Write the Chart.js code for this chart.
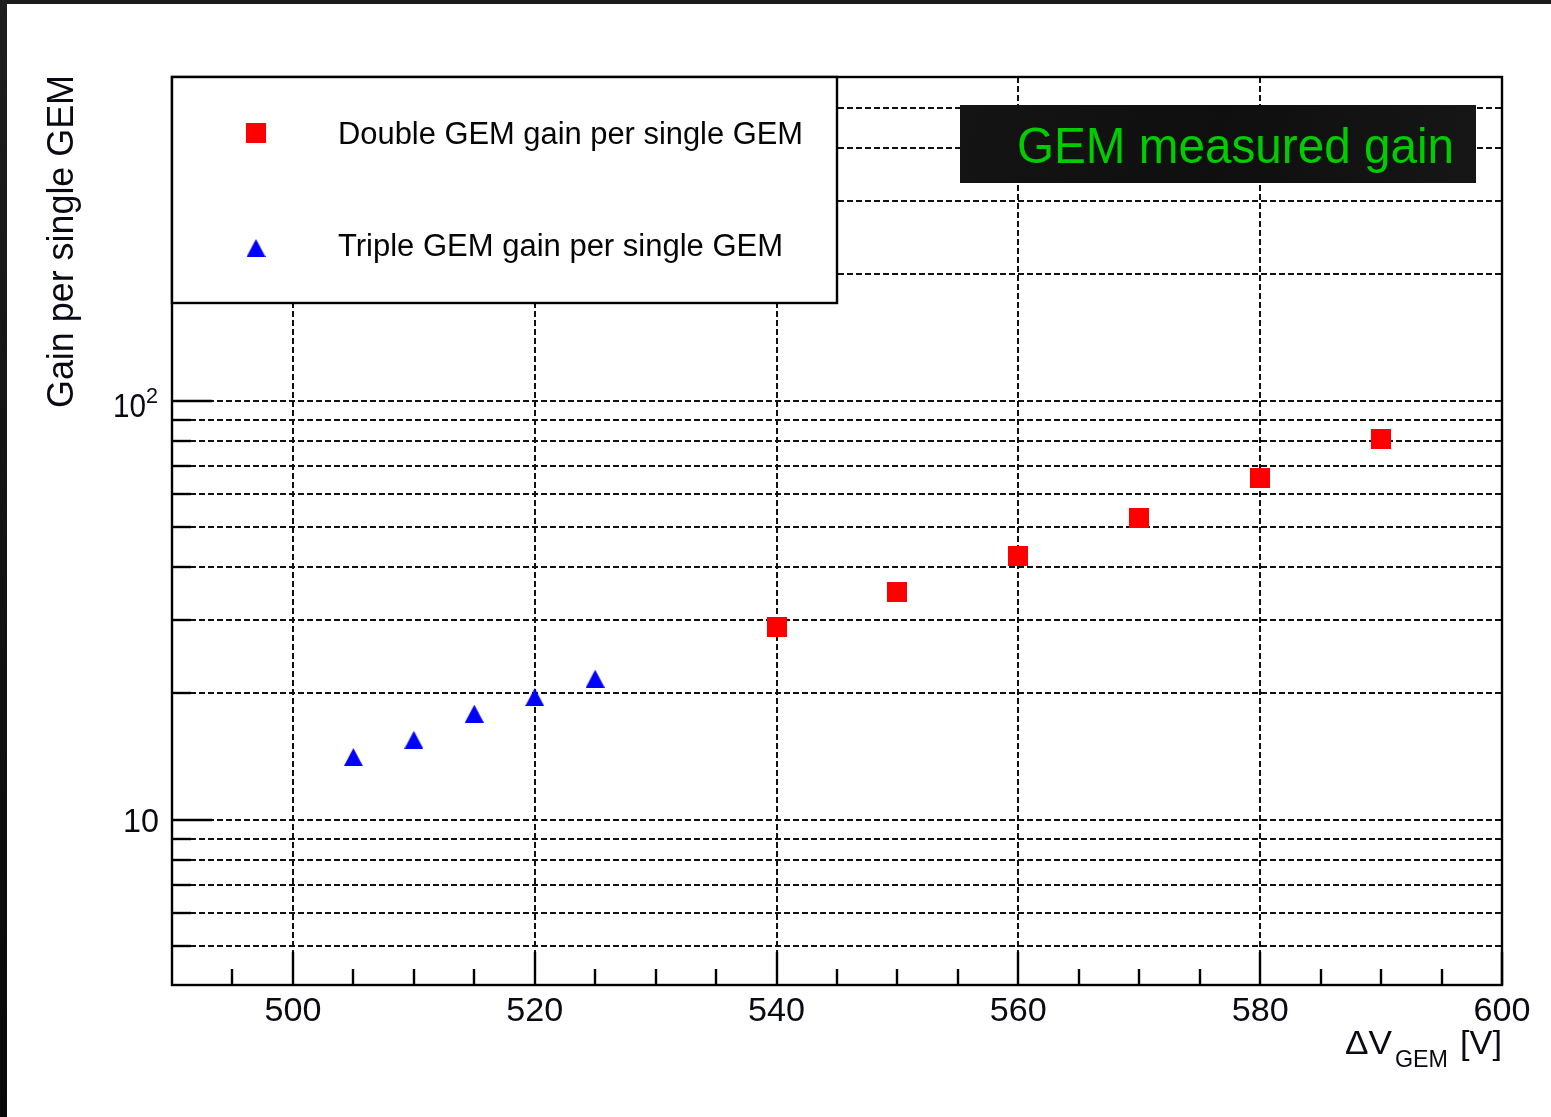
<!DOCTYPE html>
<html>
<head>
<meta charset="utf-8">
<title>GEM measured gain</title>
<script src="https://cdn.jsdelivr.net/npm/chart.js@4/dist/chart.umd.min.js"></script>
<style>
  html, body { margin: 0; padding: 0; background: #ffffff; }
  canvas { display: block; }
</style>
</head>
<body>
<canvas id="gain" width="1551" height="1117"></canvas>
<script>
// Voltage across one GEM foil [V]
const doubleVoltage = [540, 550, 560, 570, 580, 590];
const doubleGain    = [28.8, 34.9, 42.5, 52.4, 65.2, 80.8];

const tripleVoltage = [505, 510, 515, 520, 525];
const tripleGain    = [14.1, 15.5, 17.9, 19.6, 21.7];

const seriesNames = ['Double GEM gain per single GEM', 'Triple GEM gain per single GEM'];
const boxTitle = 'GEM measured gain';
const yTitle = 'Gain per single GEM';

// Axis ranges and ticks
const xRange = [490, 600];
const yRange = [4.03, 592];
const xMajorTicks = [500, 520, 540, 560, 580, 600];
const xTickLabels = ['500', '520', '540', '560', '580', '600'];
const xMinorTicks = [495, 505, 510, 515, 525, 530, 535, 545, 550, 555, 565, 570, 575, 585, 590, 595];
const xGridValues = [500, 520, 540, 560, 580];
const yMajorTicks = [10, 100];
const yMinorTicks = [5, 6, 7, 8, 9, 20, 30, 40, 50, 60, 70, 80, 90, 200, 300, 400, 500];

const FONT = '"Liberation Sans", Arial, Helvetica, sans-serif';

function makeSquare(size, color) {
  const c = document.createElement('canvas');
  c.width = size; c.height = size;
  const g = c.getContext('2d');
  g.fillStyle = color;
  g.fillRect(0, 0, size, size);
  return c;
}
function makeTriangle(w, h, color) {
  const c = document.createElement('canvas');
  c.width = w; c.height = h;
  const g = c.getContext('2d');
  g.fillStyle = color;
  g.beginPath();
  g.moveTo(w / 2, 0);
  g.lineTo(w, h);
  g.lineTo(0, h);
  g.closePath();
  g.fill();
  return c;
}
const squareMarker = makeSquare(20, '#ff0000');
const triangleMarker = makeTriangle(19, 18, '#0000ff');

// Draw text stretched horizontally so it spans a given width
function fitText(ctx, text, x, y, width, px, align) {
  ctx.save();
  ctx.font = px + 'px ' + FONT;
  ctx.textAlign = 'left';
  ctx.textBaseline = 'alphabetic';
  const w = ctx.measureText(text).width;
  const s = width ? width / w : 1;
  const drawnW = w * s;
  let x0 = x;
  if (align === 'right') x0 = x - drawnW;
  if (align === 'center') x0 = x - drawnW / 2;
  ctx.translate(x0, y);
  ctx.scale(s, 1);
  ctx.fillText(text, 0, 0);
  ctx.restore();
  return drawnW;
}

const rootStyle = {
  id: 'rootStyle',
  beforeDraw(chart) {
    const ctx = chart.ctx;
    ctx.save();
    ctx.fillStyle = '#ffffff';
    ctx.fillRect(0, 0, chart.width, chart.height);
    // dark window edge along top and left
    ctx.fillStyle = '#1b1b1b';
    ctx.fillRect(0, 0, chart.width, 4);
    const grad = ctx.createLinearGradient(0, 0, 0, chart.height);
    grad.addColorStop(0, '#1e1e1e');
    grad.addColorStop(1, '#080808');
    ctx.fillStyle = grad;
    ctx.fillRect(0, 0, 7, chart.height);
    ctx.restore();
  },
  beforeDatasetsDraw(chart) {
    const ctx = chart.ctx;
    const a = chart.chartArea;
    const xs = chart.scales.x, ys = chart.scales.y;
    ctx.save();
    // dashed grid
    ctx.strokeStyle = '#111111';
    ctx.lineWidth = 2;
    ctx.setLineDash([6, 3]);
    [...yMinorTicks, ...yMajorTicks].forEach(v => {
      const y = Math.round(ys.getPixelForValue(v));
      ctx.beginPath(); ctx.moveTo(a.left, y); ctx.lineTo(a.right, y); ctx.stroke();
    });
    xGridValues.forEach(v => {
      const x = Math.round(xs.getPixelForValue(v));
      ctx.beginPath(); ctx.moveTo(x, a.top); ctx.lineTo(x, a.bottom); ctx.stroke();
    });
    ctx.setLineDash([]);
    // tick marks, drawn inside the frame
    ctx.strokeStyle = '#000000';
    ctx.lineWidth = 2.4;
    xMajorTicks.forEach(v => {
      const x = Math.round(xs.getPixelForValue(v));
      ctx.beginPath(); ctx.moveTo(x, a.bottom); ctx.lineTo(x, a.bottom - 33); ctx.stroke();
    });
    xMinorTicks.forEach(v => {
      const x = Math.round(xs.getPixelForValue(v));
      ctx.beginPath(); ctx.moveTo(x, a.bottom); ctx.lineTo(x, a.bottom - 16); ctx.stroke();
    });
    yMajorTicks.forEach(v => {
      const y = Math.round(ys.getPixelForValue(v));
      ctx.beginPath(); ctx.moveTo(a.left, y); ctx.lineTo(a.left + 40, y); ctx.stroke();
    });
    yMinorTicks.forEach(v => {
      const y = Math.round(ys.getPixelForValue(v));
      ctx.beginPath(); ctx.moveTo(a.left, y); ctx.lineTo(a.left + 19, y); ctx.stroke();
    });
    ctx.restore();
  },
  afterDatasetsDraw(chart) {
    const ctx = chart.ctx;
    const a = chart.chartArea;
    const xs = chart.scales.x, ys = chart.scales.y;
    ctx.save();

    // frame
    ctx.strokeStyle = '#000000';
    ctx.lineWidth = 2.4;
    ctx.strokeRect(a.left, a.top, a.right - a.left, a.bottom - a.top);

    // legend box
    const lx = a.left, ly = a.top, lw = 665, lh = 226;
    ctx.fillStyle = '#ffffff';
    ctx.fillRect(lx, ly, lw, lh);
    ctx.strokeRect(lx, ly, lw, lh);
    ctx.drawImage(squareMarker, lx + 84 - 10, ly + 56 - 10);
    ctx.drawImage(triangleMarker, lx + 84 - 9.5, ly + 171 - 9);
    ctx.fillStyle = '#050505';
    fitText(ctx, seriesNames[0], lx + 166, ly + 67, 465, 31, 'left');
    fitText(ctx, seriesNames[1], lx + 166, ly + 179, 445, 31, 'left');

    // title box
    const bx = 960, by = 105, bw = 516, bh = 78;
    const bg = ctx.createLinearGradient(bx, by, bx + bw, by + bh);
    bg.addColorStop(0, '#141414');
    bg.addColorStop(0.5, '#0f0f0f');
    bg.addColorStop(1, '#161616');
    ctx.fillStyle = bg;
    ctx.fillRect(bx, by, bw, bh);
    ctx.fillStyle = '#00cc00';
    fitText(ctx, boxTitle, bx + 57, by + 58, 437, 50, 'left');

    // x tick labels
    ctx.fillStyle = '#0a0a14';
    xMajorTicks.forEach((v, i) => {
      const x = xs.getPixelForValue(v);
      fitText(ctx, xTickLabels[i], x, a.bottom + 36, 57, 33, 'center');
    });

    // y tick labels: 10 and 10^2
    const y10 = ys.getPixelForValue(10);
    fitText(ctx, '10', a.left - 13, y10 + 12, 36, 33, 'right');
    const y100 = ys.getPixelForValue(100);
    const w2 = fitText(ctx, '2', a.left - 14, y100 + 2, 12, 22, 'right');
    fitText(ctx, '10', a.left - 14 - w2, y100 + 16, 33, 33, 'right');

    // x axis title: ΔV_GEM [V]
    fitText(ctx, '\u0394V', a.right - 157, a.bottom + 69, 47, 33, 'left');
    fitText(ctx, 'GEM', a.right - 107, a.bottom + 82, 53, 24, 'left');
    fitText(ctx, '[V]', a.right, a.bottom + 69, 42, 33, 'right');

    // y axis title, rotated, ending at the top of the frame
    ctx.save();
    ctx.translate(a.left - 99, 408);
    ctx.rotate(-Math.PI / 2);
    fitText(ctx, yTitle, 0, 0, 333, 36, 'left');
    ctx.restore();

    ctx.restore();
  }
};

new Chart(document.getElementById('gain'), {
  type: 'scatter',
  data: {
    datasets: [
      {
        label: seriesNames[0],
        data: doubleVoltage.map((v, i) => ({ x: v, y: doubleGain[i] })),
        pointStyle: squareMarker,
        backgroundColor: '#ff0000',
        borderColor: '#ff0000'
      },
      {
        label: seriesNames[1],
        data: tripleVoltage.map((v, i) => ({ x: v, y: tripleGain[i] })),
        pointStyle: triangleMarker,
        backgroundColor: '#0000ff',
        borderColor: '#0000ff'
      }
    ]
  },
  options: {
    responsive: false,
    animation: false,
    devicePixelRatio: 1,
    layout: { padding: { left: 172, top: 77, right: 49, bottom: 132 } },
    plugins: {
      legend: { display: false },
      tooltip: { enabled: false },
      title: { display: false }
    },
    scales: {
      x: { type: 'linear', min: xRange[0], max: xRange[1], display: false },
      y: { type: 'logarithmic', min: yRange[0], max: yRange[1], display: false }
    }
  },
  plugins: [rootStyle]
});
</script>
</body>
</html>
